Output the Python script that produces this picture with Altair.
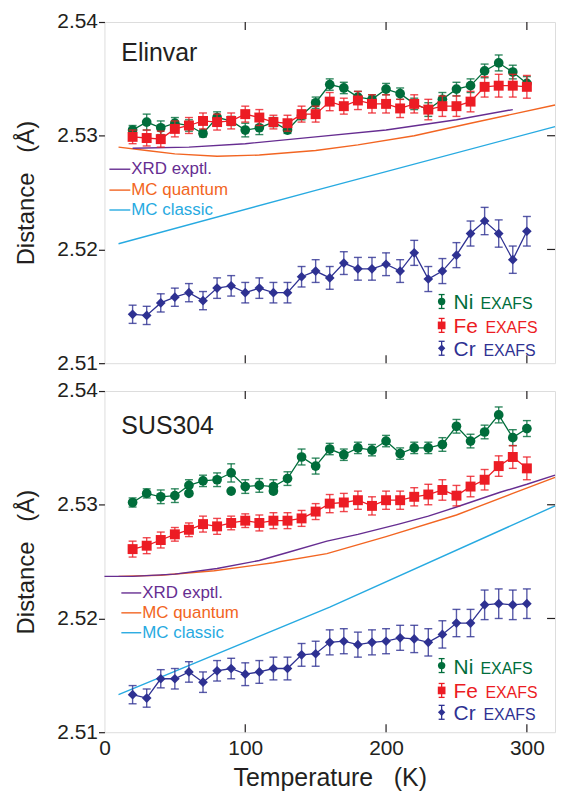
import altair as alt
import pandas as pd

# ---------------- data ----------------
T = [20, 30, 40, 50, 60, 70, 80, 90, 100, 110, 120, 130, 140, 150, 160,
     170, 180, 190, 200, 210, 220, 230, 240, 250, 260, 270, 280, 290, 300]

# Elinvar
el_ni = [2.5305, 2.5312, 2.5307, 2.5311, 2.5309, 2.5302, 2.5316, 2.5313, 2.5305, 2.5307,
         2.5312, 2.5305, 2.5318, 2.5329, 2.5345, 2.5342, 2.5334, 2.5332, 2.5341, 2.5337,
         2.5328, 2.5323, 2.5332, 2.5341, 2.5344, 2.5357, 2.5364, 2.5356, 2.5346]
el_ni_err = [.0004, .0007, .0006, .0005, .0005, .0003, .0005, .0004, .0006, .0006,
             .0004, .0003, .0004, .0005, .0005, .0005, .0005, .0004, .0005, .0005,
             .0005, .0006, .0006, .0006, .0006, .0006, .0007, .0006, .0006]
el_fe = [2.5299, 2.5298, 2.5297, 2.5306, 2.5309, 2.5313, 2.5312, 2.5313, 2.5319, 2.5316,
         2.5312, 2.5311, 2.5319, 2.5319, 2.5330, 2.5326, 2.5331, 2.5328, 2.5328, 2.5324,
         2.5328, 2.5323, 2.5326, 2.5326, 2.5330, 2.5343, 2.5344, 2.5344, 2.5343]
el_fe_err = [.0006, .0007, .0007, .0007, .0007, .0007, .0007, .0007, .0007, .0007,
             .0006, .0007, .0007, .0007, .0008, .0007, .0008, .0008, .0008, .0008,
             .0008, .0009, .0009, .0009, .0009, .0009, .0010, .0010, .0010]
el_cr = [2.5143, 2.5142, 2.5153, 2.5158, 2.5162, 2.5155, 2.5166, 2.5168, 2.5162, 2.5166,
         2.5162, 2.5162, 2.5176, 2.5181, 2.5175, 2.5188, 2.5183, 2.5183, 2.5187, 2.5181,
         2.5197, 2.5174, 2.5181, 2.5195, 2.5214, 2.5225, 2.5214, 2.5191, 2.5216]
el_cr_err = [.0008, .0008, .0008, .0008, .0008, .0008, .0009, .0009, .0009, .0009,
             .0009, .0009, .0009, .0010, .0010, .0010, .0010, .0010, .0010, .0010,
             .0011, .0011, .0011, .0011, .0011, .0012, .0012, .0012, .0013]
el_xrd_T = [20, 60, 100, 150, 200, 250, 290]
el_xrd = [2.5289, 2.5290, 2.5293, 2.5299, 2.5305, 2.5314, 2.5323]
el_mcq_T = [10, 30, 50, 80, 110, 150, 180, 220, 260, 290, 320]
el_mcq = [2.5290, 2.5287, 2.5284, 2.5282, 2.5283, 2.5287, 2.5292, 2.5300, 2.5311, 2.5319, 2.5327]
el_mcc_T = [10, 150, 320]
el_mcc = [2.5205, 2.5252, 2.5308]

# SUS304
su_ni = [2.5302, 2.5310, 2.5307, 2.5308, 2.5317, 2.5321, 2.5322, 2.5328, 2.5316, 2.5317,
         2.5316, 2.5323, 2.5342, 2.5334, 2.5349, 2.5344, 2.5350, 2.5348, 2.5356, 2.5345,
         2.5350, 2.5350, 2.5353, 2.5369, 2.5356, 2.5364, 2.5379, 2.5359, 2.5367]
su_ni_err = [.0004, .0004, .0006, .0006, .0005, .0005, .0006, .0008, .0006, .0006,
             .0006, .0006, .0007, .0007, .0005, .0005, .0005, .0005, .0005, .0005,
             .0005, .0005, .0006, .0006, .0006, .0006, .0007, .0007, .0007]
su_ni_extra_T = [60, 90, 120]
su_ni_extra = [2.5310, 2.5312, 2.5312]
su_fe = [2.5261, 2.5264, 2.5269, 2.5274, 2.5278, 2.5283, 2.5281, 2.5284, 2.5286, 2.5284,
         2.5286, 2.5286, 2.5288, 2.5294, 2.5301, 2.5302, 2.5304, 2.5299, 2.5304, 2.5304,
         2.5307, 2.5309, 2.5313, 2.5308, 2.5316, 2.5322, 2.5334, 2.5342, 2.5332]
su_fe_err = [.0007, .0007, .0007, .0006, .0006, .0007, .0007, .0006, .0006, .0007,
             .0007, .0007, .0007, .0007, .0008, .0008, .0008, .0008, .0008, .0008,
             .0008, .0009, .0009, .0009, .0009, .0009, .0009, .0010, .0010]
su_cr = [2.5133, 2.5130, 2.5147, 2.5147, 2.5153, 2.5144, 2.5154, 2.5156, 2.5151, 2.5153,
         2.5156, 2.5156, 2.5168, 2.5169, 2.5179, 2.5180, 2.5177, 2.5179, 2.5180, 2.5183,
         2.5182, 2.5179, 2.5186, 2.5196, 2.5196, 2.5212, 2.5213, 2.5212, 2.5213]
su_cr_err = [.0008, .0008, .0008, .0009, .0009, .0009, .0009, .0009, .0010, .0010,
             .0010, .0010, .0010, .0011, .0011, .0011, .0011, .0011, .0011, .0011,
             .0012, .0012, .0012, .0012, .0012, .0013, .0013, .0013, .0013]
su_xrd_T = [0, 20, 50, 80, 110, 130, 158, 180, 209, 230, 250, 281, 300, 320]
su_xrd = [2.5237, 2.5237, 2.5239, 2.5244, 2.5251, 2.5258, 2.5268, 2.5274, 2.5283, 2.5290,
          2.5298, 2.5311, 2.5318, 2.5326]
su_mcq_T = [10, 40, 78, 120, 158, 200, 250, 290, 320]
su_mcq = [2.5237, 2.5238, 2.5242, 2.5249, 2.5257, 2.5272, 2.5291, 2.5310, 2.5324]
su_mcc_T = [10, 160, 320]
su_mcc = [2.5133, 2.5210, 2.5299]

x_ticks = [0, 100, 200, 300]
x_inner_ticks = [100, 200, 300]
y_ticks = [2.51, 2.52, 2.53, 2.54]
y_inner_ticks = [2.52, 2.53]

model_names = ["XRD exptl.", "MC quantum", "MC classic"]
exafs_names = ["Ni", "Fe", "Cr"]

# ---------------- styling ----------------
W, H = 453, 343
FONT = "Liberation Sans"
INK = "#231f20"
C_NI, C_FE, C_CR = "#006d3b", "#ec1c24", "#2e3192"
C_XRD, C_MCQ, C_MCC = "#662d91", "#f26522", "#27aae1"

xs = alt.Scale(domain=[0, 320], nice=False, zero=False)
ys = alt.Scale(domain=[2.51, 2.54], nice=False, zero=False)

y_axis = alt.Axis(values=y_ticks, format=".2f", title="Distance\u00a0\u00a0\u00a0(Å)",
                  tickSize=6, tickColor=INK, tickWidth=1.2, labelPadding=1,
                  titlePadding=18, domain=False, grid=False, labelFontSize=21,
                  titleFontSize=24, labelFont=FONT, titleFont=FONT, labelColor=INK,
                  titleColor=INK, titleFontWeight="normal")
x_axis_bottom = alt.Axis(values=x_ticks, title="Temperature\u00a0\u00a0\u00a0(K)", ticks=False,
                         tickSize=0, domain=False, grid=False, labelPadding=5, titlePadding=8,
                         labelFlush=False, labelFontSize=21, titleFontSize=25,
                         labelFont=FONT, titleFont=FONT, labelColor=INK, titleColor=INK,
                         titleFontWeight="normal")


def X(field, bottom):
    return alt.X(f"{field}:Q", scale=xs, axis=x_axis_bottom if bottom else None)


def Y(field):
    return alt.Y(f"{field}:Q", scale=ys, axis=y_axis)


def exafs(Ts, vals, errs, color, shape, size, bottom):
    df = pd.DataFrame({"T": Ts, "d": vals,
                       "lo": [v - e for v, e in zip(vals, errs)],
                       "hi": [v + e for v, e in zip(vals, errs)]})
    base = alt.Chart(df)
    bars = base.mark_rule(color=color, strokeWidth=1.4, opacity=0.8).encode(
        x=X("T", bottom), y=Y("lo"), y2="hi")
    cap_lo = base.mark_tick(color=color, orient="horizontal", size=8, thickness=1.4,
                            opacity=0.8).encode(x=X("T", bottom), y=Y("lo"))
    cap_hi = base.mark_tick(color=color, orient="horizontal", size=8, thickness=1.4,
                            opacity=0.8).encode(x=X("T", bottom), y=Y("hi"))
    line = base.mark_line(color=color, strokeWidth=1.3).encode(x=X("T", bottom), y=Y("d"))
    pts = base.mark_point(shape=shape, filled=True, size=size, color=color,
                          opacity=1).encode(x=X("T", bottom), y=Y("d"))
    return [bars, cap_lo, cap_hi, line, pts]


def model(Ts, vals, color, bottom):
    df = pd.DataFrame({"T": Ts, "d": vals})
    return alt.Chart(df).mark_line(color=color, strokeWidth=1.4).encode(
        x=X("T", bottom), y=Y("d"))


def one():
    return alt.Chart(pd.DataFrame({"k": [0]}))


def panel(name, name_y, ni, ni_e, fe, fe_e, cr, cr_e, xrd_T, xrd, mcq_T, mcq, mcc_T, mcc,
          leg_x0, leg_x1, leg_ys, ex_ys, bottom, extra=None):
    layers = []
    layers.append(model(mcc_T, mcc, C_MCC, bottom))
    layers.append(model(mcq_T, mcq, C_MCQ, bottom))
    layers.append(model(xrd_T, xrd, C_XRD, bottom))
    layers += exafs(T, ni, ni_e, C_NI, "circle", 95, bottom)
    if extra is not None:
        edf = pd.DataFrame({"T": extra[0], "d": extra[1]})
        layers.append(alt.Chart(edf).mark_point(shape="circle", filled=True, size=95,
                                                color=C_NI, opacity=1).encode(
            x=X("T", bottom), y=Y("d")))
    layers += exafs(T, fe, fe_e, C_FE, "square", 100, bottom)
    layers += exafs(T, cr, cr_e, C_CR, "diamond", 95, bottom)

    # inward ticks on top, bottom and right frame
    tdf = pd.DataFrame({"T": x_inner_ticks})
    layers.append(alt.Chart(tdf).mark_rule(color=INK, strokeWidth=1.2).encode(
        x=X("T", bottom), y=alt.value(0), y2=alt.value(8)))
    layers.append(alt.Chart(tdf).mark_rule(color=INK, strokeWidth=1.2).encode(
        x=X("T", bottom), y=alt.value(H - 8), y2=alt.value(H)))
    rdf = pd.DataFrame({"d": y_inner_ticks})
    layers.append(alt.Chart(rdf).mark_rule(color=INK, strokeWidth=1.2).encode(
        y=Y("d"), x=alt.value(W - 8), x2=alt.value(W)))

    # panel name
    layers.append(one().mark_text(text=name, font=FONT, fontSize=25, color=INK,
                                  align="left", baseline="alphabetic").encode(
        x=alt.value(17), y=alt.value(name_y)))

    # model legend
    for nm, col, yy in zip(model_names, [C_XRD, C_MCQ, C_MCC], leg_ys):
        layers.append(one().mark_rule(color=col, strokeWidth=1.4).encode(
            x=alt.value(leg_x0), x2=alt.value(leg_x1), y=alt.value(yy)))
        layers.append(one().mark_text(text=nm, font=FONT, fontSize=17, color=col,
                                      align="left", baseline="middle").encode(
            x=alt.value(leg_x1 + 1), y=alt.value(yy)))

    # EXAFS legend
    for nm, col, shp, sz, yy, ex in zip(exafs_names, [C_NI, C_FE, C_CR],
                                        ["circle", "square", "diamond"], [55, 60, 55],
                                        ex_ys, [378, 383, 381]):
        layers.append(one().mark_rule(color=col, strokeWidth=1.3).encode(
            x=alt.value(339), y=alt.value(yy - 7), y2=alt.value(yy + 7)))
        layers.append(one().mark_rule(color=col, strokeWidth=1.3).encode(
            x=alt.value(336), x2=alt.value(342), y=alt.value(yy - 7)))
        layers.append(one().mark_rule(color=col, strokeWidth=1.3).encode(
            x=alt.value(336), x2=alt.value(342), y=alt.value(yy + 7)))
        layers.append(one().mark_point(shape=shp, filled=True, size=sz, color=col,
                                       opacity=1).encode(x=alt.value(339), y=alt.value(yy)))
        layers.append(one().mark_text(text=nm, font=FONT, fontSize=21, color=col,
                                      align="left", baseline="alphabetic").encode(
            x=alt.value(351), y=alt.value(yy + 8)))
        layers.append(one().mark_text(text="EXAFS", font=FONT, fontSize=16, color=col,
                                      align="left", baseline="alphabetic").encode(
            x=alt.value(ex), y=alt.value(yy + 8)))

    return alt.layer(*layers).properties(width=W, height=H)


top = panel("Elinvar", 39, el_ni, el_ni_err, el_fe, el_fe_err, el_cr, el_cr_err,
            el_xrd_T, el_xrd, el_mcq_T, el_mcq, el_mcc_T, el_mcc,
            5, 26, [148, 169, 189], [281, 305, 328], False)
bot = panel("SUS304", 43, su_ni, su_ni_err, su_fe, su_fe_err, su_cr, su_cr_err,
            su_xrd_T, su_xrd, su_mcq_T, su_mcq, su_mcc_T, su_mcc,
            17, 37, [203, 223, 243], [276, 301, 323], True,
            extra=(su_ni_extra_T, su_ni_extra))

chart = alt.vconcat(top, bot, spacing=28, bounds="flush").properties(
    padding={"left": 14, "top": 8, "right": 2, "bottom": 0}
).configure_view(stroke="#3a3a3a", strokeWidth=1.6).configure(background="white")

chart.save("out.html", embed_options={"renderer": "svg", "actions": False})
